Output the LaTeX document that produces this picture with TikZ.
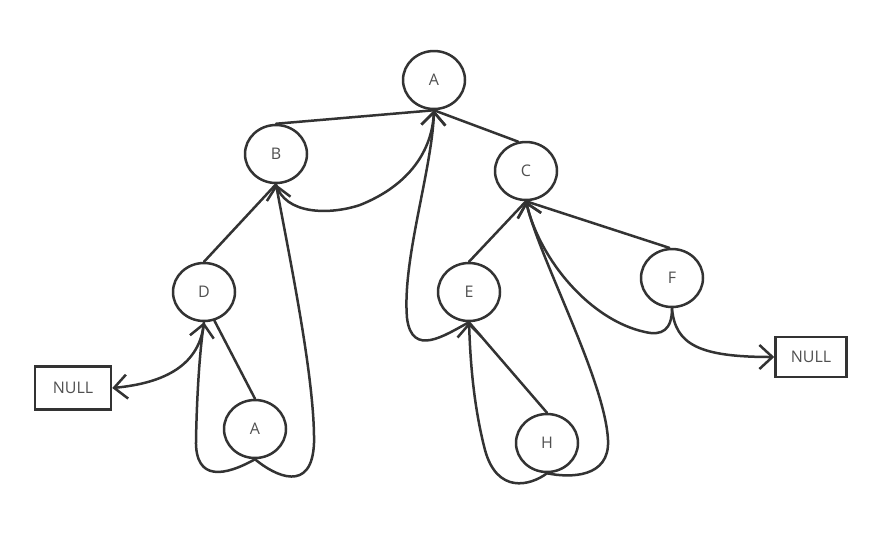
\documentclass[tikz,border=0pt]{standalone}
\usepackage{fontspec}
\setmainfont{Open Sans}
\usetikzlibrary{shapes.geometric,arrows.meta}
\definecolor{ink}{HTML}{333333}
\definecolor{txt}{HTML}{505050}
\begin{document}
\begin{tikzpicture}[x=1pt,y=-1pt,
  tn/.style={ellipse, draw=ink, line width=2.5pt, minimum width=62pt, minimum height=58pt, inner sep=0pt, text=txt, font=\fontsize{16}{19}\selectfont},
  nullbox/.style={rectangle, draw=ink, line width=2.5pt, inner sep=0pt, text=txt, font=\fontsize{16}{19}\selectfont},
  link/.style={draw=ink, line width=2.5pt, line cap=round},
  thread/.style={link, -{Straight Barb[length=13pt,width=24pt]}}]
\useasboundingbox (0,0) rectangle (891,542);
% nodes
\node[tn] (A) at (434,80) {A};
\node[tn] (B) at (276,154) {B};
\node[tn] (C) at (526,171) {C};
\node[tn] (D) at (204,292) {D};
\node[tn] (E) at (469,292) {E};
\node[tn] (F) at (672,278) {F};
\node[tn] (A2) at (255,429) {A};
\node[tn] (H) at (547,443) {H};
\node[nullbox, minimum width=76pt, minimum height=43pt] (N1) at (73,388) {NULL};
\node[nullbox, minimum width=71pt, minimum height=40pt] (N2) at (811,357) {NULL};
% tree edges
\draw[link] (B.north) -- (A.south);
\draw[link] (A.south) -- (C.105);
\draw[link] (B.south) -- (D.north);
\draw[link] (D.-70) -- (A2.north);
\draw[link] (C.south) -- (E.north);
\draw[link] (C.south) -- (F.95);
\draw[link] (E.south) -- (H.north);
% threads
\draw[thread] (A2.south) .. controls (225,476) and (195,482) .. (196,440)
  .. controls (197,390) and (200,350) .. (D.south);
\draw[thread] (A2.south) .. controls (275,476) and (312,494) .. (314,443)
  .. controls (315,380) and (290,260) .. (B.south);
\draw[thread] (D.south) .. controls (200,365) and (165,383) .. (N1.east);
\draw[thread] (B.south) .. controls (285,215) and (330,215) .. (360,205)
  .. controls (410,185) and (432,150) .. (A.south);
\draw[thread] (E.south) .. controls (445,335) and (412,358) .. (407,318)
  .. controls (402,260) and (432,170) .. (A.south);
\draw[thread] (H.south) .. controls (530,486) and (497,494) .. (485,450)
  .. controls (472,400) and (470,350) .. (E.south);
\draw[thread] (H.south) .. controls (570,478) and (610,478) .. (608,440)
  .. controls (605,380) and (540,260) .. (C.south);
\draw[thread] (F.south) .. controls (672,330) and (662,336) .. (645,332)
  .. controls (590,320) and (540,260) .. (C.south);
\draw[thread] (F.south) .. controls (675,345) and (700,357) .. (N2.west);
\end{tikzpicture}
\end{document}
